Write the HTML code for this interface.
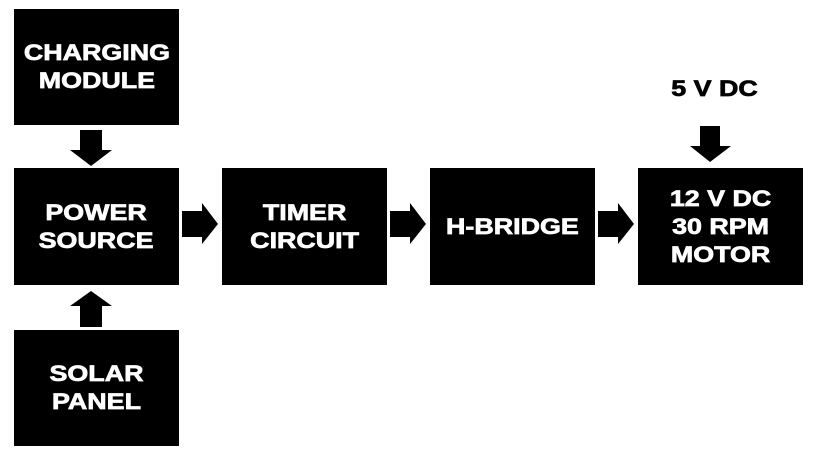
<!DOCTYPE html>
<html><head><style>
body{margin:0;width:817px;height:458px;background:#fff;position:relative;overflow:hidden;font-family:"Liberation Sans",Arial,sans-serif;}
.b{position:absolute;background:#000;color:#fff;font-weight:bold;font-size:22px;line-height:28px;display:flex;align-items:center;justify-content:center;text-align:center;width:165px;height:117px;}
.b span,.t span{display:inline-block;transform:scaleX(1.22);-webkit-text-stroke:0.7px currentColor;}
svg{position:absolute;left:0;top:0}
</style></head><body>
<div class="b" style="left:14px;top:9px;height:116px"><span>CHARGING<br>MODULE</span></div>
<div class="b" style="left:14px;top:168px"><span>POWER<br>SOURCE</span></div>
<div class="b" style="left:14px;top:330px;height:116px"><span>SOLAR<br>PANEL</span></div>
<div class="b" style="left:222px;top:168px"><span>TIMER<br>CIRCUIT</span></div>
<div class="b" style="left:430px;top:168px"><span>H-BRIDGE</span></div>
<div class="b" style="left:638px;top:168px"><span>12 V DC<br>30 RPM<br>MOTOR</span></div>
<div class="t" style="position:absolute;left:639px;width:150px;top:76px;text-align:center;font-weight:bold;font-size:22px"><span>5 V DC</span></div>
<svg width="817" height="458">
<g fill="#000">
<polygon points="80,130 102,130 102,150 112,150 91,166 70,150 80,150"/>
<polygon points="80,327 102,327 102,306 112,306 91,291 70,306 80,306"/>
<polygon points="700,126 720,126 720,146 731,146 710,162 690,146 700,146"/>
<polygon points="182,211 202,211 202,203 218,224 202,244 202,237 182,237"/>
<polygon points="390,211 410,211 410,203 426,224 410,244 410,237 390,237"/>
<polygon points="598,211 618,211 618,203 634,224 618,244 618,237 598,237"/>
</g></svg>
</body></html>
